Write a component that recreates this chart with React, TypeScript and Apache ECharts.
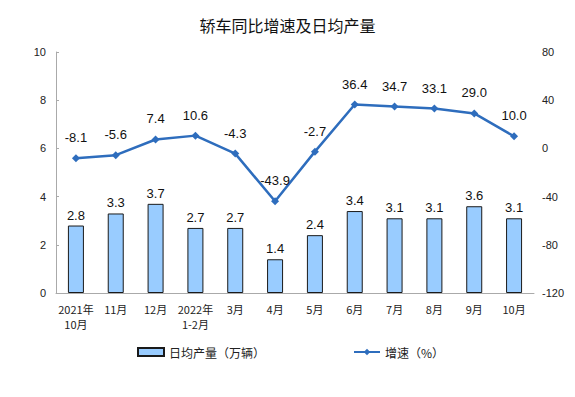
import React, { useEffect, useRef } from "react";
import * as echarts from "echarts";

const categories = ["2021年\n10月", "11月", "12月", "2022年\n1-2月", "3月", "4月", "5月", "6月", "7月", "8月", "9月", "10月"];
const dailyOutput = [2.8, 3.3, 3.7, 2.7, 2.7, 1.4, 2.4, 3.4, 3.1, 3.1, 3.6, 3.1];
const growthRate = [-8.1, -5.6, 7.4, 10.6, -4.3, -43.9, -2.7, 36.4, 34.7, 33.1, 29.0, 10.0];

export default function App() {
  const ref = useRef<HTMLDivElement>(null);
  useEffect(() => {
    const chart = echarts.init(ref.current!, null, { renderer: "svg" });
    const numFont = "Liberation Sans, Arial, sans-serif";
    const cjkFont = "Noto Sans CJK SC, sans-serif";
    chart.setOption({
      animation: false,
      backgroundColor: "#ffffff",
      title: {
        text: "轿车同比增速及日均产量",
        left: "center",
        top: 4,
        textStyle: { fontFamily: cjkFont, fontSize: 16, fontWeight: "normal", color: "#111" },
      },
      legend: {
        top: 333,
        left: 124,
        itemGap: 88,
        itemWidth: 26,
        itemHeight: 8,
        textStyle: { fontFamily: cjkFont, fontSize: 12, color: "#222" },
        data: [
          { name: "日均产量（万辆）", icon: "rect" },
          { name: "增速（%）" },
        ],
      },
      grid: { left: 48, right: 29, top: 44, bottom: 96 },
      xAxis: {
        type: "category",
        data: categories,
        axisLine: { lineStyle: { color: "#aaa" } },
        axisTick: { inside: true, length: 3, lineStyle: { color: "#aaa" } },
        axisLabel: { interval: 0, fontFamily: cjkFont, fontSize: 11, color: "#222", lineHeight: 15, margin: 8 },
      },
      yAxis: [
        {
          type: "value",
          min: 0,
          max: 10,
          interval: 2,
          axisLine: { show: true, lineStyle: { color: "#aaa" } },
          axisTick: { show: true, inside: true, length: 3, lineStyle: { color: "#aaa" } },
          splitLine: { show: false },
          axisLabel: { fontFamily: numFont, fontSize: 11, color: "#222", margin: 10 },
        },
        {
          type: "value",
          min: -120,
          max: 80,
          interval: 40,
          axisLine: { show: false },
          axisTick: { show: false },
          splitLine: { show: false },
          axisLabel: { fontFamily: numFont, fontSize: 11, color: "#222", margin: 8 },
        },
      ],
      series: [
        {
          name: "日均产量（万辆）",
          type: "bar",
          data: dailyOutput,
          barWidth: 16,
          itemStyle: { color: "#99ccff", borderColor: "#1a1a1a", borderWidth: 1 },
          label: {
            show: true,
            position: "top",
            distance: 4,
            fontFamily: numFont,
            fontSize: 13,
            color: "#111",
            formatter: (p: any) => p.value.toFixed(1),
          },
        },
        {
          name: "增速（%）",
          type: "line",
          yAxisIndex: 1,
          data: growthRate,
          symbol: "diamond",
          symbolSize: 8,
          lineStyle: { color: "#2e6dbd", width: 2.5 },
          itemStyle: { color: "#2e6dbd" },
          label: {
            show: true,
            position: "top",
            distance: 10,
            fontFamily: numFont,
            fontSize: 13,
            color: "#111",
            formatter: (p: any) => p.value.toFixed(1),
          },
        },
      ],
    });
    return () => chart.dispose();
  }, []);
  return <div ref={ref} style={{ width: 559, height: 381 }} />;
}
